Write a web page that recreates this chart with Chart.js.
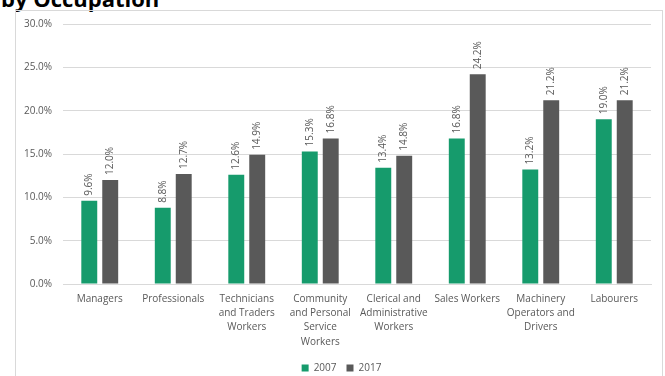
<!DOCTYPE html>
<html>
<head>
<meta charset="utf-8">
<script src="https://cdn.jsdelivr.net/npm/chart.js@4.4.1/dist/chart.umd.min.js"></script>
<style>
  html, body { margin: 0; padding: 0; background: #fff; overflow: hidden; }
  body { width: 665px; height: 376px; position: relative; }
  #title { position: absolute; left: 1px; top: -17px; font-family: "Open Sans", "DejaVu Sans", sans-serif; font-weight: bold; font-size: 22px; color: #000; white-space: nowrap; }
  #box { position: absolute; left: 15px; top: 10px; width: 648px; height: 380px; border: 1px solid #d9d9d9; box-sizing: border-box; }
  #wrap { position: absolute; left: 0; top: 0; width: 665px; height: 376px; }
</style>
</head>
<body>
<div id="title">by Occupation</div>
<div id="box"></div>
<div id="wrap"><canvas id="c" width="665" height="376"></canvas></div>
<script>
const categories = [
  "Managers",
  "Professionals",
  ["Technicians", "and Traders", "Workers"],
  ["Community", "and Personal", "Service", "Workers"],
  ["Clerical and", "Administrative", "Workers"],
  "Sales Workers",
  ["Machinery", "Operators and", "Drivers"],
  "Labourers"
];
const seriesNames = ["2007", "2017"];
const values2007 = [9.6, 8.8, 12.6, 15.3, 13.4, 16.8, 13.2, 19.0];
const values2017 = [12.0, 12.7, 14.9, 16.8, 14.8, 24.2, 21.2, 21.2];
const yTicks = [0, 5, 10, 15, 20, 25, 30];

const FONT = '"Open Sans", "DejaVu Sans", sans-serif';
const TXT = '#595959';

const valueLabels = {
  id: 'valueLabels',
  afterDatasetsDraw(chart) {
    const ctx = chart.ctx;
    ctx.save();
    ctx.font = '10px ' + FONT;
    ctx.fillStyle = TXT;
    ctx.textAlign = 'left';
    ctx.textBaseline = 'middle';
    chart.data.datasets.forEach((ds, di) => {
      const meta = chart.getDatasetMeta(di);
      meta.data.forEach((bar, i) => {
        const v = ds.data[i];
        ctx.save();
        ctx.translate(bar.x, bar.y - 5);
        ctx.rotate(-Math.PI / 2);
        ctx.fillText(v.toFixed(1) + '%', 0, 0);
        ctx.restore();
      });
    });
    ctx.restore();
  }
};

const legendShift = {
  id: 'legendShift',
  afterLayout(chart) {
    if (chart.legend) {
      chart.legend.left += 16;
      chart.legend.right += 16;
    }
  }
};

new Chart(document.getElementById('c'), {
  type: 'bar',
  data: {
    labels: categories,
    datasets: [
      { label: seriesNames[0], data: values2007, backgroundColor: '#169B6C' },
      { label: seriesNames[1], data: values2017, backgroundColor: '#595959' }
    ]
  },
  options: {
    responsive: false,
    animation: false,
    devicePixelRatio: 1,
    layout: { padding: { left: 0, right: 14, top: 24, bottom: -7 } },
    datasets: { bar: { categoryPercentage: 0.57, barPercentage: 0.76 } },
    scales: {
      x: {
        grid: { display: false, drawTicks: false },
        border: { display: true, color: '#d9d9d9' },
        ticks: {
          color: TXT, font: { size: 10, family: FONT, lineHeight: 1.42 },
          maxRotation: 0, minRotation: 0, autoSkip: false, padding: 8
        },
        afterFit(scale) { scale.height = 69; }
      },
      y: {
        min: 0, max: 30,
        afterBuildTicks(scale) { scale.ticks = yTicks.map(v => ({ value: v })); },
        grid: { color: '#d9d9d9', drawTicks: false },
        border: { display: false },
        ticks: {
          color: TXT, font: { size: 10, family: FONT }, padding: 11,
          callback: v => v.toFixed(1) + '%'
        },
        afterFit(scale) { scale.width = 63; }
      }
    },
    plugins: {
      legend: {
        position: 'bottom',
        labels: {
          color: TXT, font: { size: 10, family: FONT },
          boxWidth: 7, boxHeight: 7, padding: 10
        }
      },
      tooltip: { enabled: false }
    }
  },
  plugins: [valueLabels, legendShift]
});
</script>
</body>
</html>
